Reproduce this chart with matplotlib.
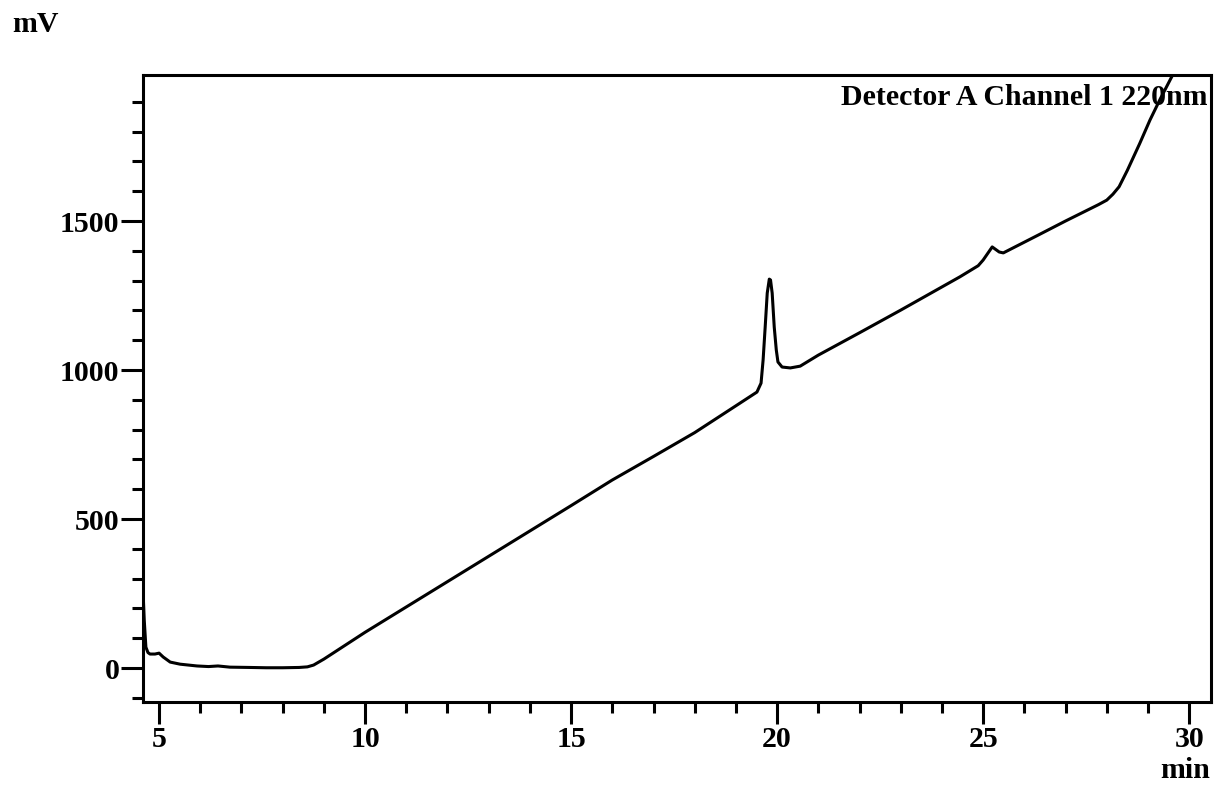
import matplotlib.pyplot as plt
from matplotlib.ticker import MultipleLocator

# chromatogram (time in min, signal in mV)
time_min = [4.61, 4.64, 4.68, 4.73, 4.78, 4.90, 5.00, 5.10, 5.27, 5.51, 5.92, 6.20,
            6.43, 6.72, 7.20, 7.60, 8.00, 8.40, 8.60, 8.75, 9.00, 9.50, 10.00,
            11.00, 12.00, 13.00, 14.00, 15.00, 16.00, 17.00, 18.00, 19.10, 19.51,
            19.61, 19.66, 19.71, 19.76, 19.81, 19.84, 19.88, 19.93, 19.98, 20.02,
            20.12, 20.32, 20.56, 21.00, 22.00, 23.00, 24.44, 24.88, 25.00,
            25.22, 25.39, 25.49, 26.34, 27.00, 27.80, 28.00, 28.15, 28.30, 28.50,
            28.80, 29.05, 29.30, 29.60, 29.75]
signal_mv = [260, 161, 70, 52, 47, 47, 50, 37, 20, 13, 7, 5,
             7, 3, 2, 1, 1, 2, 4, 10, 30, 75, 120,
             205, 290, 375, 460, 545, 631, 710, 790, 889, 926,
             956, 1034, 1144, 1258, 1305, 1302, 1258, 1144, 1067, 1027,
             1010, 1007, 1013, 1050, 1125, 1201, 1313, 1350, 1369,
             1413, 1396, 1393, 1453, 1500, 1555, 1570, 1590, 1615, 1670,
             1760, 1839, 1910, 1990, 2040]

plt.rcParams['font.family'] = 'Liberation Serif'
plt.rcParams['font.weight'] = 'bold'

fig = plt.figure(figsize=(12.15, 7.85), dpi=100)
ax = fig.add_axes([0.1177, 0.1057, 0.879, 0.7988])

ax.plot(time_min, signal_mv, color='black', linewidth=2.2)

ax.set_xlim(4.61, 30.53)
ax.set_ylim(-114, 1990)

ax.xaxis.set_major_locator(MultipleLocator(5))
ax.xaxis.set_minor_locator(MultipleLocator(1))
ax.yaxis.set_major_locator(MultipleLocator(500))
ax.yaxis.set_minor_locator(MultipleLocator(100))

ax.tick_params(which='major', length=16, width=2.2, labelsize=21.5, direction='out')
ax.tick_params(which='minor', length=8, width=2.2, direction='out')
ax.tick_params(axis='x', pad=1)
ax.tick_params(axis='y', pad=1)
for lab in ax.get_xticklabels() + ax.get_yticklabels():
    lab.set_fontweight('bold')
for sp in ax.spines.values():
    sp.set_linewidth(2.2)

ax.text(0.997, 0.985, 'Detector A Channel 1 220nm', transform=ax.transAxes,
        ha='right', va='top', fontsize=21.5, fontweight='bold')
fig.text(12 / 1215, 1 - 24 / 785, 'mV', ha='left', va='center', fontsize=21.5, fontweight='bold')
fig.text(1210 / 1215, 1 - 770 / 785, 'min', ha='right', va='center', fontsize=21.5, fontweight='bold')

fig.savefig('out.png', dpi=100)
